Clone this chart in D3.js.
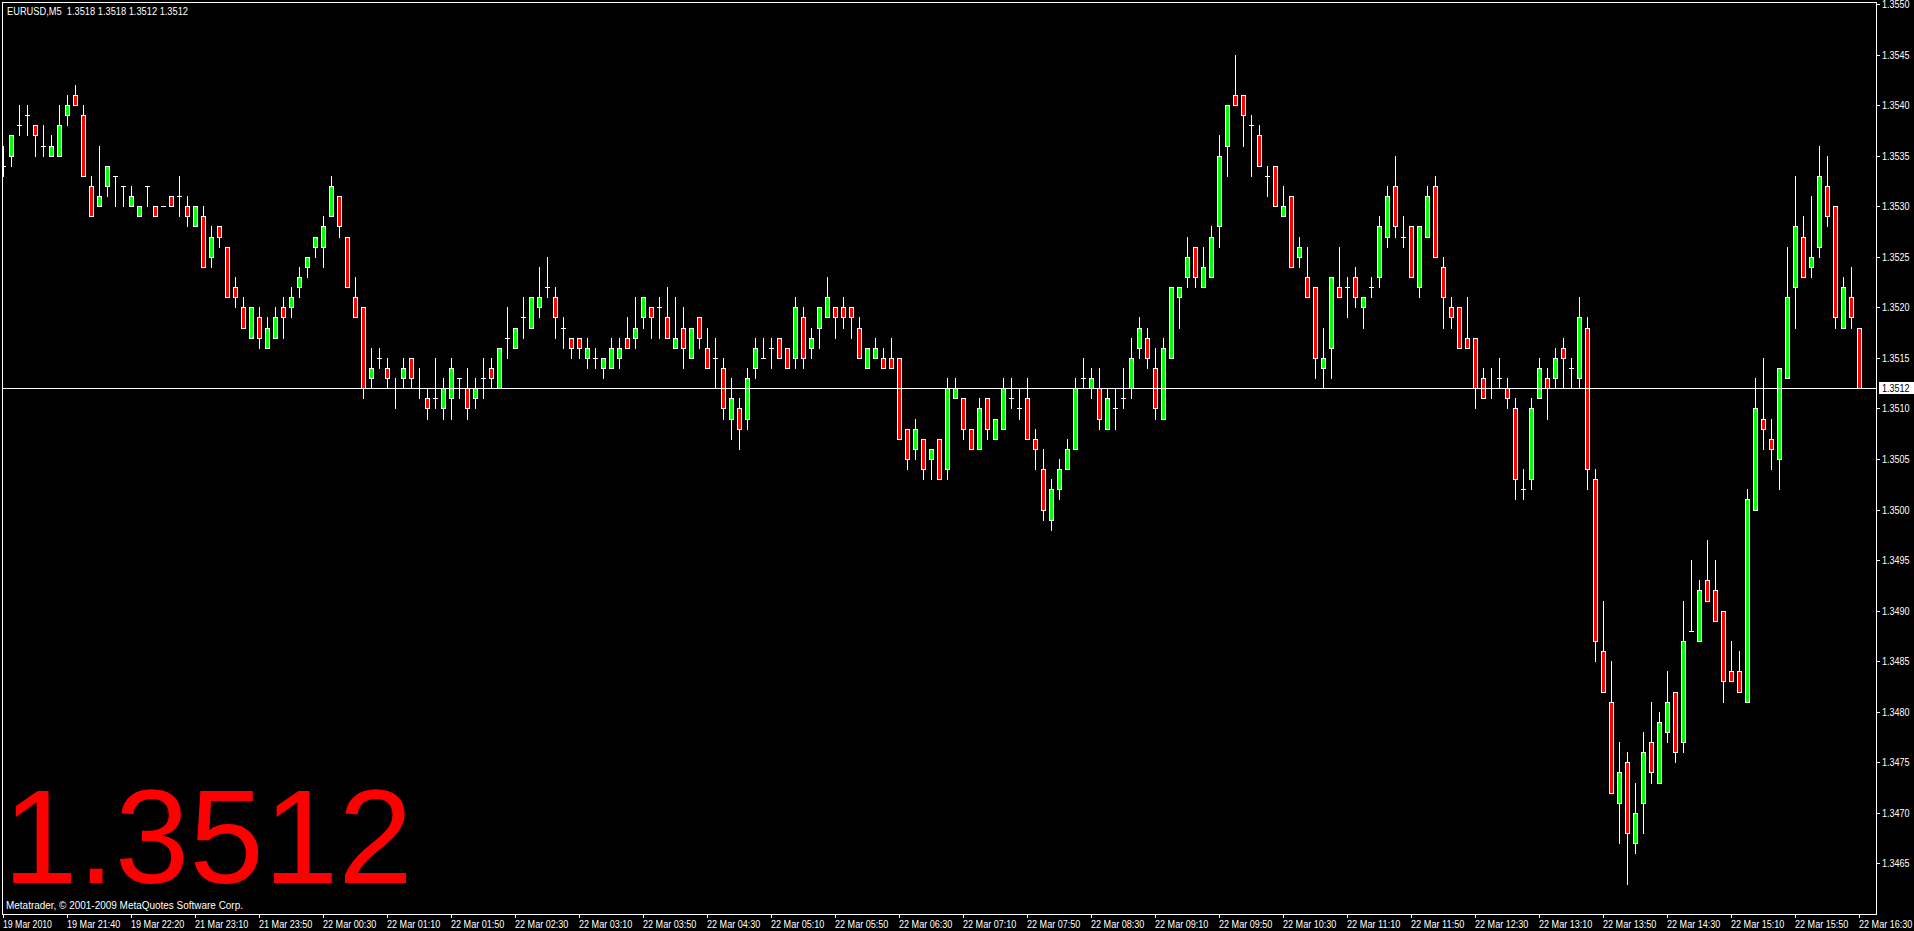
<!DOCTYPE html>
<html>
<head>
<meta charset="utf-8">
<script src="https://cdn.jsdelivr.net/npm/d3@7"></script>
<style>
body { margin:0; background:#000; overflow:hidden; }
text { font-family:"Liberation Sans", Arial, sans-serif; }
</style>
</head>
<body>
<svg width="1914" height="931"></svg>
<script>
// EURUSD M5 bars, 19 Mar 2010 21:00 -> 22 Mar 16:30
var openP = [
1.3534,1.3535,1.3538,1.3539,1.3538,1.3536,1.3535,1.3535,1.3539,1.3541,
1.3539,1.3532,1.3530,1.3532,1.3533,1.3532,1.3530,1.3529,1.3532,1.3530,
1.3530,1.3531,1.3531,1.3530,1.3528,1.3529,1.3525,1.3528,1.3526,1.3522,
1.3520,1.3517,1.3519,1.3516,1.3517,1.3520,1.3520,1.3522,1.3524,1.3526,
1.3526,1.3529,1.3531,1.3527,1.3521,1.3520,1.3513,1.3515,1.3514,1.3512,
1.3513,1.3515,1.3512,1.3511,1.3511,1.3510,1.3511,1.3513,1.3512,1.3511,
1.3513,1.3514,1.3512,1.3517,1.3516,1.3519,1.3518,1.3520,1.3522,1.3521,
1.3518,1.3517,1.3517,1.3515,1.3515,1.3514,1.3514,1.3515,1.3517,1.3517,
1.3519,1.3520,1.3520,1.3519,1.3516,1.3518,1.3515,1.3519,1.3516,1.3515,
1.3514,1.3509,1.3510,1.3509,1.3514,1.3515,1.3516,1.3517,1.3516,1.3515,
1.3519,1.3516,1.3518,1.3519,1.3520,1.3520,1.3520,1.3518,1.3514,1.3515,
1.3515,1.3515,1.3515,1.3508,1.3506,1.3507,1.3505,1.3507,1.3504,1.3511,
1.3511,1.3508,1.3506,1.3511,1.3507,1.3508,1.3511,1.3510,1.3511,1.3507,
1.3504,1.3499,1.3502,1.3504,1.3506,1.3513,1.3512,1.3512,1.3508,1.3510,
1.3511,1.3512,1.3516,1.3517,1.3514,1.3509,1.3515,1.3521,1.3523,1.3526,
1.3522,1.3523,1.3528,1.3536,1.3541,1.3541,1.3538,1.3537,1.3533,1.3534,
1.3529,1.3531,1.3525,1.3523,1.3522,1.3514,1.3516,1.3522,1.3522,1.3523,
1.3520,1.3522,1.3523,1.3527,1.3532,1.3527,1.3528,1.3522,1.3527,1.3532,
1.3524,1.3520,1.3520,1.3517,1.3517,1.3513,1.3512,1.3513,1.3512,1.3510,
1.3502,1.3503,1.3511,1.3513,1.3513,1.3516,1.3514,1.3513,1.3518,1.3503,
1.3486,1.3481,1.3471,1.3475,1.3467,1.3471,1.3477,1.3473,1.3478,1.3482,
1.3477,1.3488,1.3487,1.3493,1.3492,1.3490,1.3484,1.3484,1.3481,1.3500,
1.3509,1.3507,1.3505,1.3513,1.3522,1.3527,1.3524,1.3526,1.3532,1.3530,
1.3518,1.3521,1.3518];
var highP = [
1.3536,1.3537,1.3540,1.3540,1.3538,1.3538,1.3537,1.3540,1.3541,1.3542,
1.3540,1.3533,1.3536,1.3534,1.3533,1.3532,1.3532,1.3530,1.3532,1.3530,
1.3530,1.3531,1.3533,1.3531,1.3530,1.3530,1.3528,1.3528,1.3526,1.3523,
1.3521,1.3520,1.3520,1.3519,1.3520,1.3521,1.3522,1.3524,1.3525,1.3527,
1.3529,1.3533,1.3531,1.3527,1.3523,1.3520,1.3516,1.3516,1.3515,1.3513,
1.3515,1.3515,1.3514,1.3512,1.3515,1.3513,1.3515,1.3513,1.3514,1.3513,
1.3515,1.3515,1.3516,1.3520,1.3518,1.3521,1.3521,1.3524,1.3525,1.3522,
1.3519,1.3517,1.3517,1.3517,1.3516,1.3515,1.3517,1.3517,1.3519,1.3521,
1.3521,1.3520,1.3521,1.3522,1.3521,1.3520,1.3518,1.3519,1.3518,1.3517,
1.3515,1.3513,1.3511,1.3514,1.3517,1.3517,1.3517,1.3517,1.3516,1.3521,
1.3520,1.3518,1.3520,1.3523,1.3520,1.3521,1.3520,1.3519,1.3516,1.3517,
1.3516,1.3517,1.3515,1.3508,1.3509,1.3507,1.3506,1.3507,1.3513,1.3513,
1.3511,1.3508,1.3511,1.3511,1.3509,1.3513,1.3513,1.3512,1.3513,1.3508,
1.3506,1.3503,1.3505,1.3507,1.3513,1.3515,1.3514,1.3514,1.3512,1.3512,
1.3514,1.3517,1.3519,1.3518,1.3516,1.3517,1.3522,1.3522,1.3527,1.3526,
1.3526,1.3528,1.3537,1.3540,1.3545,1.3541,1.3539,1.3538,1.3534,1.3534,
1.3532,1.3531,1.3527,1.3526,1.3522,1.3518,1.3523,1.3526,1.3523,1.3524,
1.3521,1.3523,1.3529,1.3532,1.3535,1.3529,1.3528,1.3528,1.3532,1.3533,
1.3525,1.3521,1.3520,1.3521,1.3517,1.3514,1.3514,1.3515,1.3513,1.3511,
1.3504,1.3511,1.3515,1.3514,1.3516,1.3517,1.3515,1.3521,1.3519,1.3504,
1.3491,1.3485,1.3477,1.3476,1.3473,1.3478,1.3481,1.3480,1.3484,1.3482,
1.3491,1.3495,1.3493,1.3497,1.3495,1.3490,1.3487,1.3486,1.3502,1.3513,
1.3515,1.3509,1.3514,1.3526,1.3533,1.3529,1.3531,1.3536,1.3535,1.3530,
1.3523,1.3524,1.3518];
var lowP = [
1.3533,1.3534,1.3537,1.3537,1.3535,1.3535,1.3535,1.3535,1.3538,1.3540,
1.3533,1.3529,1.3530,1.3531,1.3530,1.3530,1.3530,1.3529,1.3530,1.3529,
1.3530,1.3530,1.3529,1.3528,1.3528,1.3524,1.3524,1.3526,1.3521,1.3520,
1.3518,1.3517,1.3516,1.3516,1.3517,1.3517,1.3519,1.3521,1.3523,1.3525,
1.3524,1.3529,1.3527,1.3522,1.3519,1.3511,1.3512,1.3514,1.3512,1.3510,
1.3512,1.3512,1.3511,1.3509,1.3510,1.3509,1.3509,1.3511,1.3509,1.3510,
1.3511,1.3512,1.3512,1.3515,1.3516,1.3517,1.3518,1.3519,1.3521,1.3517,
1.3516,1.3515,1.3515,1.3514,1.3514,1.3513,1.3514,1.3514,1.3516,1.3516,
1.3518,1.3517,1.3517,1.3517,1.3516,1.3514,1.3515,1.3516,1.3514,1.3512,
1.3509,1.3507,1.3506,1.3508,1.3513,1.3515,1.3514,1.3515,1.3514,1.3514,
1.3514,1.3515,1.3516,1.3519,1.3517,1.3518,1.3517,1.3515,1.3514,1.3515,
1.3514,1.3514,1.3507,1.3504,1.3505,1.3503,1.3503,1.3503,1.3503,1.3511,
1.3507,1.3506,1.3506,1.3507,1.3507,1.3508,1.3510,1.3509,1.3507,1.3504,
1.3499,1.3498,1.3501,1.3504,1.3506,1.3512,1.3511,1.3508,1.3508,1.3508,
1.3510,1.3511,1.3515,1.3514,1.3509,1.3509,1.3515,1.3518,1.3522,1.3522,
1.3522,1.3523,1.3526,1.3533,1.3540,1.3536,1.3533,1.3534,1.3531,1.3530,
1.3529,1.3524,1.3524,1.3521,1.3513,1.3512,1.3513,1.3521,1.3519,1.3520,
1.3518,1.3521,1.3522,1.3526,1.3527,1.3526,1.3523,1.3521,1.3527,1.3525,
1.3518,1.3518,1.3516,1.3516,1.3510,1.3511,1.3511,1.3512,1.3510,1.3501,
1.3501,1.3502,1.3511,1.3509,1.3512,1.3512,1.3512,1.3512,1.3502,1.3485,
1.3482,1.3472,1.3467,1.3463,1.3466,1.3468,1.3473,1.3473,1.3477,1.3475,
1.3476,1.3488,1.3487,1.3491,1.3489,1.3481,1.3483,1.3482,1.3481,1.3500,
1.3506,1.3504,1.3502,1.3513,1.3518,1.3523,1.3523,1.3525,1.3528,1.3518,
1.3518,1.3518,1.3512];
var closeP = [
1.3534,1.3537,1.3538,1.3539,1.3537,1.3536,1.3536,1.3538,1.3540,1.3540,
1.3533,1.3529,1.3531,1.3534,1.3533,1.3532,1.3531,1.3530,1.3532,1.3529,
1.3530,1.3530,1.3531,1.3529,1.3530,1.3524,1.3527,1.3527,1.3521,1.3521,
1.3518,1.3520,1.3517,1.3518,1.3519,1.3519,1.3521,1.3523,1.3525,1.3527,
1.3528,1.3532,1.3528,1.3522,1.3519,1.3512,1.3514,1.3515,1.3513,1.3512,
1.3514,1.3513,1.3512,1.3510,1.3511,1.3512,1.3514,1.3513,1.3510,1.3512,
1.3513,1.3513,1.3516,1.3517,1.3518,1.3519,1.3521,1.3521,1.3522,1.3519,
1.3518,1.3516,1.3516,1.3516,1.3515,1.3515,1.3516,1.3516,1.3516,1.3518,
1.3521,1.3519,1.3520,1.3517,1.3517,1.3516,1.3518,1.3517,1.3514,1.3515,
1.3510,1.3511,1.3508,1.3513,1.3516,1.3515,1.3516,1.3515,1.3514,1.3520,
1.3515,1.3517,1.3520,1.3521,1.3519,1.3519,1.3519,1.3515,1.3516,1.3516,
1.3514,1.3514,1.3507,1.3505,1.3508,1.3504,1.3506,1.3503,1.3512,1.3512,
1.3508,1.3506,1.3510,1.3508,1.3509,1.3512,1.3511,1.3510,1.3507,1.3506,
1.3500,1.3502,1.3504,1.3506,1.3512,1.3513,1.3513,1.3509,1.3511,1.3510,
1.3511,1.3515,1.3518,1.3515,1.3510,1.3516,1.3522,1.3522,1.3525,1.3523,
1.3524,1.3527,1.3535,1.3540,1.3540,1.3539,1.3538,1.3534,1.3533,1.3530,
1.3530,1.3524,1.3526,1.3521,1.3515,1.3515,1.3523,1.3521,1.3522,1.3521,
1.3521,1.3522,1.3528,1.3531,1.3528,1.3527,1.3523,1.3528,1.3531,1.3525,
1.3521,1.3519,1.3516,1.3516,1.3512,1.3511,1.3512,1.3513,1.3511,1.3503,
1.3502,1.3510,1.3514,1.3512,1.3515,1.3515,1.3514,1.3519,1.3504,1.3487,
1.3482,1.3472,1.3474,1.3468,1.3470,1.3476,1.3474,1.3479,1.3481,1.3476,
1.3487,1.3488,1.3492,1.3491,1.3489,1.3483,1.3483,1.3482,1.3501,1.3510,
1.3508,1.3506,1.3514,1.3521,1.3528,1.3523,1.3525,1.3533,1.3529,1.3519,
1.3522,1.3519,1.3512];

// one label every 8 bars
var timeLabels = ["19 Mar 2010","19 Mar 21:40","19 Mar 22:20","21 Mar 23:10","21 Mar 23:50",
  "22 Mar 00:30","22 Mar 01:10","22 Mar 01:50","22 Mar 02:30","22 Mar 03:10",
  "22 Mar 03:50","22 Mar 04:30","22 Mar 05:10","22 Mar 05:50","22 Mar 06:30",
  "22 Mar 07:10","22 Mar 07:50","22 Mar 08:30","22 Mar 09:10","22 Mar 09:50",
  "22 Mar 10:30","22 Mar 11:10","22 Mar 11:50","22 Mar 12:30","22 Mar 13:10",
  "22 Mar 13:50","22 Mar 14:30","22 Mar 15:10","22 Mar 15:50","22 Mar 16:30"];
var priceTicks = [1.3550,1.3545,1.3540,1.3535,1.3530,1.3525,1.3520,1.3515,1.3510,1.3505,
  1.3500,1.3495,1.3490,1.3485,1.3480,1.3475,1.3470,1.3465];
var symbol = "EURUSD,M5";
var copyright = "Metatrader, \u00a9 2001-2009 MetaQuotes Software Corp.";

var svg = d3.select("svg"),
  width = +svg.attr("width"),
  height = +svg.attr("height");

var n = openP.length, last = n - 1;
var plotR = 1876, plotB = 914;

var x = d3.scaleLinear().domain([0, last]).range([3.3, 3.3 + 8 * last]);
var y = d3.scaleLinear().domain([1.3460, 1.3550]).range([plotB, 4]);

function px(i) { return Math.floor(x(i)); }
function py(p) { return Math.round(y(p)); }

svg.append("rect").attr("width", width).attr("height", height).attr("fill", "#000");

svg.append("defs").append("clipPath").attr("id", "plot")
  .append("rect").attr("x", 3).attr("y", 3).attr("width", plotR - 3).attr("height", plotB - 3);

// big last price
svg.append("text")
  .attr("x", 3).attr("y", 883)
  .attr("fill", "#ff0000")
  .style("font-size", "134px")
  .text(closeP[last].toFixed(4));

svg.append("text")
  .attr("x", 6).attr("y", 909)
  .attr("fill", "#fff").style("font-size", "10px")
  .attr("textLength", 237).attr("lengthAdjust", "spacingAndGlyphs")
  .text(copyright);

var bars = d3.range(n);
var g = svg.append("g").attr("clip-path", "url(#plot)");

// wicks
g.selectAll("line.wick").data(bars).enter().append("line")
  .attr("class", "wick")
  .attr("x1", function(i) { return px(i) + 0.5; })
  .attr("x2", function(i) { return px(i) + 0.5; })
  .attr("y1", function(i) { return py(highP[i]); })
  .attr("y2", function(i) { return py(lowP[i]) + 1; })
  .attr("stroke", "#fff").attr("stroke-width", 1);

// bodies
g.selectAll("rect.body").data(bars.filter(function(i) { return openP[i] !== closeP[i]; }))
  .enter().append("rect")
  .attr("class", "body")
  .attr("x", function(i) { return px(i) - 1.5; })
  .attr("y", function(i) { return py(Math.max(openP[i], closeP[i])) + 0.5; })
  .attr("width", 4)
  .attr("height", function(i) { return py(Math.min(openP[i], closeP[i])) - py(Math.max(openP[i], closeP[i])); })
  .attr("fill", function(i) { return closeP[i] > openP[i] ? "#00ff00" : "#ff0000"; })
  .attr("stroke", "#fff").attr("stroke-width", 1);

// doji
g.selectAll("line.doji").data(bars.filter(function(i) { return openP[i] === closeP[i]; }))
  .enter().append("line")
  .attr("class", "doji")
  .attr("x1", function(i) { return px(i) - 2; })
  .attr("x2", function(i) { return px(i) + 3; })
  .attr("y1", function(i) { return py(openP[i]) + 0.5; })
  .attr("y2", function(i) { return py(openP[i]) + 0.5; })
  .attr("stroke", "#fff").attr("stroke-width", 1);

// bid line
svg.append("line")
  .attr("x1", 3).attr("x2", plotR)
  .attr("y1", py(closeP[last]) + 0.5).attr("y2", py(closeP[last]) + 0.5)
  .attr("stroke", "#fff");

// frame
svg.append("rect")
  .attr("x", 2.5).attr("y", 2.5)
  .attr("width", plotR - 2).attr("height", plotB - 2)
  .attr("fill", "none").attr("stroke", "#fff");

// price axis
var pa = svg.append("g");
pa.selectAll("line").data(priceTicks).enter().append("line")
  .attr("x1", plotR + 1).attr("x2", plotR + 4)
  .attr("y1", function(d) { return py(d) + 0.5; })
  .attr("y2", function(d) { return py(d) + 0.5; })
  .attr("stroke", "#fff");
pa.selectAll("text").data(priceTicks).enter().append("text")
  .attr("x", 1882)
  .attr("y", function(d) { return Math.max(py(d), 4) + 4; })
  .attr("fill", "#fff").style("font-size", "10px")
  .attr("textLength", 27.5).attr("lengthAdjust", "spacingAndGlyphs")
  .text(function(d) { return d.toFixed(4); });

// bid label box
svg.append("rect")
  .attr("x", 1879).attr("y", py(closeP[last]) - 6)
  .attr("width", 35).attr("height", 12)
  .attr("fill", "#fff");
svg.append("text")
  .attr("x", 1882).attr("y", py(closeP[last]) + 4)
  .attr("fill", "#000").style("font-size", "10px")
  .attr("textLength", 27.5).attr("lengthAdjust", "spacingAndGlyphs")
  .text(closeP[last].toFixed(4));

// time axis
var ta = svg.append("g");
ta.selectAll("line").data(timeLabels).enter().append("line")
  .attr("x1", function(d, k) { return px(k * 8) + 0.5; })
  .attr("x2", function(d, k) { return px(k * 8) + 0.5; })
  .attr("y1", plotB + 1).attr("y2", plotB + 4)
  .attr("stroke", "#fff");
ta.selectAll("text").data(timeLabels).enter().append("text")
  .attr("x", function(d, k) { return px(k * 8); })
  .attr("y", 928)
  .attr("fill", "#fff").style("font-size", "10px")
  .attr("textLength", function(d) { return d.length * 4.45; })
  .attr("lengthAdjust", "spacingAndGlyphs")
  .text(function(d) { return d; });

// header
svg.append("text")
  .attr("x", 7).attr("y", 14.5)
  .attr("fill", "#fff").style("font-size", "10.5px")
  .style("white-space", "pre")
  .attr("textLength", 181).attr("lengthAdjust", "spacingAndGlyphs")
  .text(symbol + "  " + [openP[last], highP[last], lowP[last], closeP[last]].map(function(v) { return v.toFixed(4); }).join(" "));
</script>
</body>
</html>
